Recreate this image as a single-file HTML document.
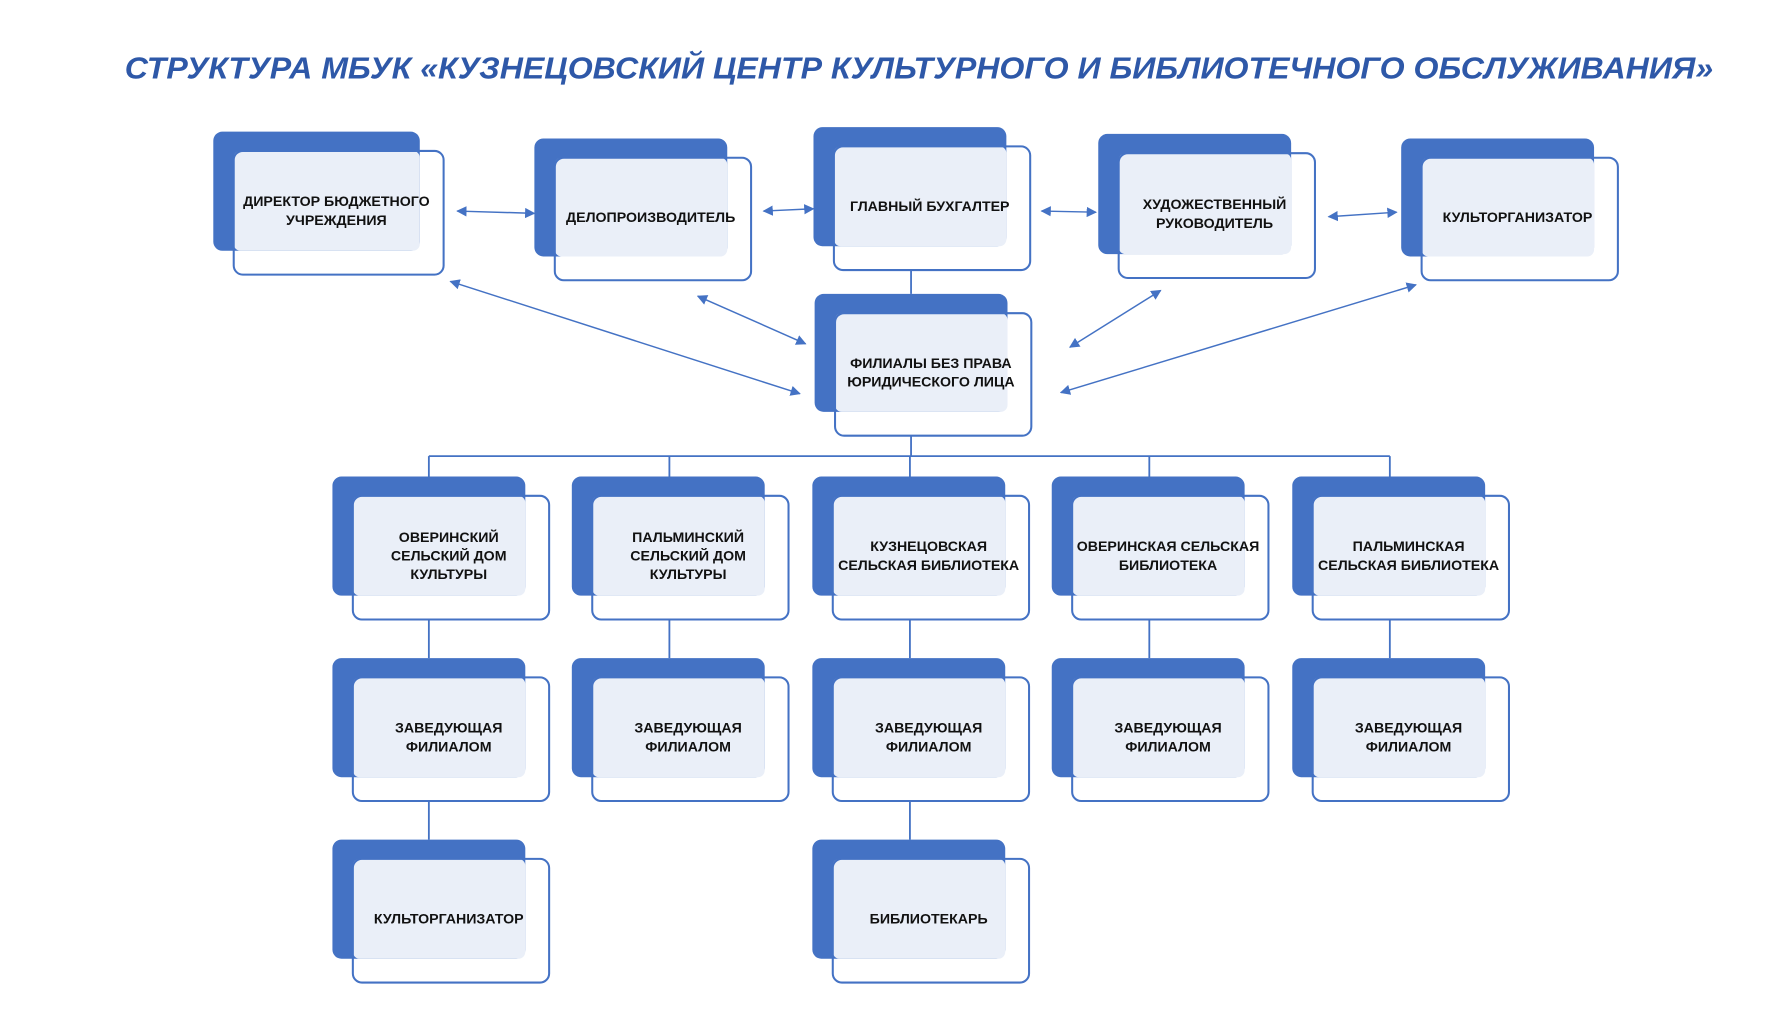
<!DOCTYPE html>
<html><head><meta charset="utf-8"><style>
html,body{margin:0;padding:0;background:#fff;}
svg{display:block;}
text{font-family:"Liberation Sans",sans-serif;font-weight:bold;fill:#111;}
</style></head><body>
<svg width="1779" height="1024" viewBox="0 0 1568 902.5" xmlns="http://www.w3.org/2000/svg">
<defs>
<marker id="a" viewBox="0 0 10 10" refX="9" refY="5" markerWidth="7" markerHeight="7" orient="auto-start-reverse"><path d="M0,0 L10,5 L0,10 z" fill="#4472c4"/></marker>
</defs>
<text x="810" y="69" text-anchor="middle" font-size="27" font-style="italic" style="fill:#2e58a8" textLength="1400" lengthAdjust="spacingAndGlyphs">СТРУКТУРА МБУК «КУЗНЕЦОВСКИЙ ЦЕНТР КУЛЬТУРНОГО И БИБЛИОТЕЧНОГО ОБСЛУЖИВАНИЯ»</text>

<g stroke="#4472c4" stroke-width="1.6" fill="none">
<line x1="803" y1="238" x2="803" y2="259"/>
<path d="M803 384 V402 M378 402 H1225 M378 402 V420 M590 402 V420 M802 402 V420 M1013 402 V420 M1225 402 V420"/>
<path d="M378 546 V580 M590 546 V580 M802 546 V580 M1013 546 V580 M1225 546 V580 M378 706 V740 M802 706 V740"/>
</g>
<g stroke="#4472c4" stroke-width="1.3" fill="none" marker-start="url(#a)" marker-end="url(#a)">
<line x1="403" y1="186" x2="471" y2="188"/>
<line x1="673" y1="186" x2="717" y2="184"/>
<line x1="918" y1="186" x2="966" y2="187"/>
<line x1="1171" y1="191" x2="1231" y2="187"/>
<line x1="397" y1="248" x2="705" y2="347"/>
<line x1="615" y1="261" x2="710" y2="303"/>
<line x1="943" y1="306" x2="1023" y2="256"/>
<line x1="935" y1="346" x2="1248" y2="251"/>
</g>

<g id="boxes"></g>
</svg>
<script>
const boxes=[
[206,133,185,109,["ДИРЕКТОР БЮДЖЕТНОГО","УЧРЕЖДЕНИЯ"]],
[489,139,173,108,["ДЕЛОПРОИЗВОДИТЕЛЬ"]],
[735,129,173,109,["ГЛАВНЫЙ БУХГАЛТЕР"]],
[986,135,173,110,["ХУДОЖЕСТВЕННЫЙ","РУКОВОДИТЕЛЬ"]],
[1253,139,173,108,["КУЛЬТОРГАНИЗАТОР"]],
[736,276,173,108,["ФИЛИАЛЫ БЕЗ ПРАВА","ЮРИДИЧЕСКОГО ЛИЦА"]],
[311,437,173,109,["ОВЕРИНСКИЙ","СЕЛЬСКИЙ ДОМ","КУЛЬТУРЫ"]],
[522,437,173,109,["ПАЛЬМИНСКИЙ","СЕЛЬСКИЙ ДОМ","КУЛЬТУРЫ"]],
[734,437,173,109,["КУЗНЕЦОВСКАЯ","СЕЛЬСКАЯ БИБЛИОТЕКА"]],
[945,437,173,109,["ОВЕРИНСКАЯ СЕЛЬСКАЯ","БИБЛИОТЕКА"]],
[1157,437,173,109,["ПАЛЬМИНСКАЯ","СЕЛЬСКАЯ БИБЛИОТЕКА"]],
[311,597,173,109,["ЗАВЕДУЮЩАЯ","ФИЛИАЛОМ"]],
[522,597,173,109,["ЗАВЕДУЮЩАЯ","ФИЛИАЛОМ"]],
[734,597,173,109,["ЗАВЕДУЮЩАЯ","ФИЛИАЛОМ"]],
[945,597,173,109,["ЗАВЕДУЮЩАЯ","ФИЛИАЛОМ"]],
[1157,597,173,109,["ЗАВЕДУЮЩАЯ","ФИЛИАЛОМ"]],
[311,757,173,109,["КУЛЬТОРГАНИЗАТОР"]],
[734,757,173,109,["БИБЛИОТЕКАРЬ"]]
];
let s='';
for(const [x,y,w,h,t] of boxes){
 const bx=x-18,by=y-17,bw=w-3,bh=h-4;
 s+=`<rect x="${bx}" y="${by}" width="${bw}" height="${bh}" rx="8" fill="#4472c4"/>`;
 s+=`<rect x="${x}" y="${y}" width="${bx+bw-x}" height="${by+bh-y}" rx="6" fill="#eaeff8"/>`;
 s+=`<rect x="${x}" y="${y}" width="${w}" height="${h}" rx="8" fill="none" stroke="#4472c4" stroke-width="1.8"/>`;
 const cx=x+w/2-2, cy=y+h/2-2, lh=16.5;
 const y0=cy-(t.length-1)*lh/2+4.5;
 t.forEach((l,i)=>{s+=`<text x="${cx}" y="${y0+i*lh}" text-anchor="middle" font-size="12.5">${l}</text>`;});
}
document.getElementById('boxes').innerHTML=s;
</script>
</body></html>
